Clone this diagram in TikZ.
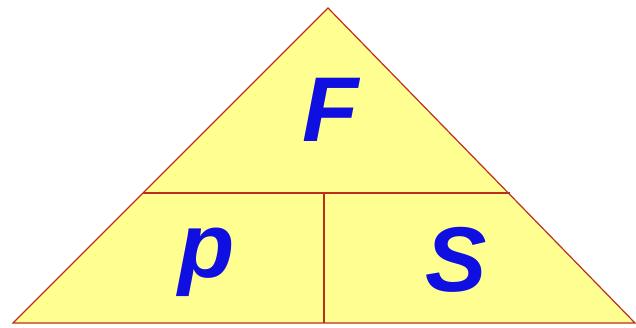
\documentclass[tikz,border=0pt]{standalone}
\usepackage{fontspec}
\setmainfont{Liberation Sans}
\definecolor{triFill}{RGB}{255,255,145}
\definecolor{triLine}{RGB}{190,45,30}
\definecolor{letterBlue}{RGB}{15,15,225}
\tikzset{
  edge/.style={draw=triLine, line width=1.2pt},
  letter/.style={text=letterBlue, font=\fontsize{92}{92}\selectfont\bfseries\itshape, inner sep=0pt}
}
\begin{document}
\begin{tikzpicture}[x=1pt,y=1pt]
\useasboundingbox (0,0) rectangle (636,327);
\fill[white] (0,0) rectangle (636,327);
\coordinate (A) at (328,319);
\coordinate (L) at (13,4);
\coordinate (R) at (635,4);
\coordinate (ML) at (143,134);
\coordinate (MR) at (510,134);
\coordinate (MT) at (324,134);
\coordinate (MB) at (324,4);
\fill[triFill] (L) -- (A) -- (R) -- cycle;
\draw[edge] (L) -- (A) -- (R) -- cycle;
\draw[edge] (ML) -- (MR);
\draw[edge] (MT) -- (MB);
\node[letter] (F) at (331,217) {F};
\node[letter, anchor=base] (p) at (207,50) {p};
\node[letter, anchor=base] (S) at (456,36) {S};
\end{tikzpicture}
\end{document}
